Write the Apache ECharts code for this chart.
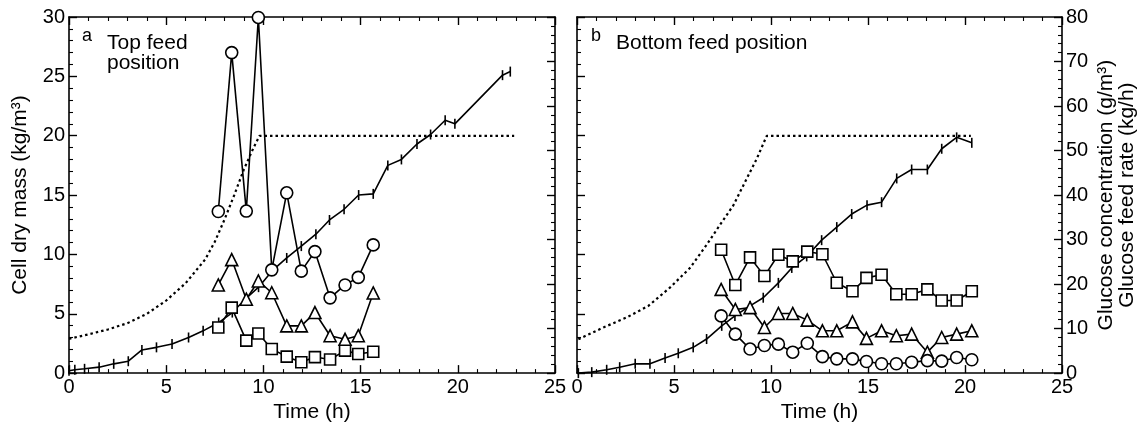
<!DOCTYPE html>
<html><head><meta charset="utf-8">
<script src="https://cdn.jsdelivr.net/npm/echarts@6/dist/echarts.min.js"></script>
<style>html,body{margin:0;padding:0;background:#fff}#c{width:1140px;height:428px}</style>
</head><body><div id="c"></div>
<script>
// ---------- Panel a: top feed position ----------
const aCellT = [0, 0.3, 0.8, 1.55, 2.3, 3.05, 3.75, 4.5, 5.3, 6.15, 6.9, 7.7, 8.4, 9.05, 9.75, 10.5, 11.2, 11.95, 12.7, 13.4, 14.15, 14.9, 15.65, 16.4, 17.1, 17.9, 18.6, 19.35, 19.85, 22.3, 22.7];
const aCellV = [0.2, 0.28, 0.36, 0.5, 0.78, 1.0, 1.95, 2.17, 2.45, 3.0, 3.56, 4.26, 5.1, 6.2, 7.24, 8.7, 9.7, 10.7, 11.7, 12.9, 13.8, 15.0, 15.1, 17.5, 18.0, 19.3, 20.1, 21.3, 21.0, 25.1, 25.4];
const aFeedT = [0, 1, 2, 3, 4, 5, 6, 7, 7.5, 8, 8.5, 9, 9.5, 9.8, 22.9];
const aFeedV = [7.7, 8.7, 9.8, 11.2, 13.3, 16.3, 20.2, 25.5, 29.5, 34.5, 40.0, 45.8, 50.7, 53.3, 53.3];
const aSampT = [7.68, 8.37, 9.12, 9.74, 10.43, 11.2, 11.95, 12.65, 13.43, 14.2, 14.88, 15.65];
const aCircV = [36.3, 72.0, 36.4, 79.9, 23.2, 40.5, 22.9, 27.3, 16.9, 19.8, 21.5, 28.8];
const aTriV  = [19.8, 25.5, 16.6, 20.7, 18.05, 10.6, 10.6, 13.6, 8.4, 7.6, 8.4, 18.0];
const aSqV   = [10.25, 14.7, 7.3, 8.9, 5.4, 3.7, 2.45, 3.6, 3.05, 5.05, 4.3, 4.8];

// ---------- Panel b: bottom feed position ----------
const bCellT = [0.07, 0.76, 1.53, 2.2, 3.0, 3.76, 4.54, 5.22, 5.99, 6.68, 7.46, 8.14, 8.92, 9.6, 10.38, 11.07, 11.84, 12.61, 13.39, 14.16, 14.95, 15.7, 16.48, 17.25, 18.06, 18.8, 19.57, 20.35];
const bCellV = [0.0, 0.08, 0.28, 0.5, 0.78, 0.78, 1.28, 1.67, 2.17, 2.87, 3.98, 4.82, 5.66, 6.35, 7.6, 8.86, 9.83, 11.2, 12.3, 13.4, 14.15, 14.4, 16.4, 17.15, 17.15, 18.9, 19.86, 19.4];
const bFeedT = [0.07, 1.36, 2.56, 3.68, 4.79, 5.82, 6.68, 7.37, 8.06, 8.75, 9.26, 9.78, 20.3];
const bFeedV = [7.6, 10.25, 12.5, 15.1, 19.2, 23.6, 28.8, 33.3, 37.7, 43.7, 48.1, 53.3, 53.3];
const bSampT = [7.43, 8.16, 8.92, 9.66, 10.38, 11.12, 11.87, 12.65, 13.39, 14.2, 14.92, 15.7, 16.46, 17.25, 18.06, 18.8, 19.57, 20.35];
const bSqV   = [27.7, 19.8, 26.0, 21.8, 26.6, 25.1, 27.3, 26.7, 20.3, 18.4, 21.4, 22.1, 17.7, 17.7, 18.8, 16.3, 16.3, 18.4];
const bTriV  = [18.8, 14.3, 14.7, 10.25, 13.4, 13.4, 11.9, 9.5, 9.5, 11.5, 7.8, 9.5, 8.4, 8.75, 4.7, 8.0, 8.75, 9.5];
const bCircV = [12.85, 8.75, 5.4, 6.2, 6.5, 4.7, 6.7, 3.7, 3.2, 3.2, 2.6, 2.1, 2.1, 2.45, 2.8, 2.7, 3.5, 3.0];

// ---------- Axis ticks ----------
const xMin = 0, xMax = 25, xStep = 5;
const cellMin = 0, cellMax = 30, cellStep = 5;
const glcMin = 0, glcMax = 80, glcStep = 10;

const FONT = 'Liberation Sans';
const zip = (t, v) => t.map((x, i) => [x, v[i]]);

const axisLine = {show: true, onZero: false, lineStyle: {color: '#000', width: 1.6}};
const tick = {show: true, inside: true, length: 8, lineStyle: {color: '#000', width: 1.4}};
const minor = {show: true, splitNumber: 5, length: 4, lineStyle: {color: '#000', width: 1.1}};
const lab = (show) => ({show, color: '#000', fontSize: 20, fontFamily: FONT, margin: 4});

function xAxes(gi) {
  return [
    {type: 'value', gridIndex: gi, position: 'bottom', min: xMin, max: xMax, interval: xStep,
     axisLine, axisTick: tick, minorTick: minor, splitLine: {show: false}, axisLabel: lab(true),
     name: 'Time (h)', nameLocation: 'middle', nameGap: 25,
     nameTextStyle: {color: '#000', fontSize: 21, fontFamily: FONT}},
    {type: 'value', gridIndex: gi, position: 'top', min: xMin, max: xMax, interval: xStep,
     axisLine, axisTick: tick, minorTick: minor, splitLine: {show: false}, axisLabel: lab(false)}
  ];
}
function yAxes(gi, showLeft, showRight) {
  return [
    {type: 'value', gridIndex: gi, position: 'left', min: cellMin, max: cellMax, interval: cellStep,
     axisLine, axisTick: tick, minorTick: minor, splitLine: {show: false}, axisLabel: lab(showLeft),
     name: showLeft ? 'Cell dry mass (kg/m³)' : '', nameLocation: 'middle', nameGap: 38, nameRotate: 90,
     nameTextStyle: {color: '#000', fontSize: 21, fontFamily: FONT}},
    {type: 'value', gridIndex: gi, position: 'right', min: glcMin, max: glcMax, interval: glcStep,
     axisLine, axisTick: tick, minorTick: minor, splitLine: {show: false}, axisLabel: lab(showRight),
     name: showRight ? 'Glucose concentration (g/m³)\nGlucose feed rate (kg/h)' : '',
     nameLocation: 'middle', nameGap: 34, nameRotate: 90,
     nameTextStyle: {color: '#000', fontSize: 21, fontFamily: FONT, lineHeight: 21}}
  ];
}

const lineS = {color: '#000', width: 1.6};
const hollow = {color: '#fff', borderColor: '#000', borderWidth: 1.6};

function cellSeries(xi, yi, t, v) {
  return {type: 'line', xAxisIndex: xi, yAxisIndex: yi, data: zip(t, v), symbol: 'rect',
    symbolSize: [1.6, 10], itemStyle: {color: '#000'}, lineStyle: lineS, z: 3, animation: false};
}
function feedSeries(xi, yi, t, v) {
  return {type: 'line', xAxisIndex: xi, yAxisIndex: yi, data: zip(t, v), symbol: 'none',
    lineStyle: {color: '#000', width: 2.2, type: [2.5, 3]}, z: 2, animation: false};
}
function sampSeries(xi, yi, t, v, sym, size) {
  return {type: 'line', xAxisIndex: xi, yAxisIndex: yi, data: zip(t, v), symbol: sym,
    symbolSize: size, showAllSymbol: true, itemStyle: hollow, lineStyle: lineS, z: 4, animation: false};
}

const option = {
  backgroundColor: '#fff',
  animation: false,
  grid: [
    {left: 69, top: 17, width: 486, height: 359},
    {left: 577, top: 17, width: 485, height: 359}
  ],
  xAxis: [...xAxes(0), ...xAxes(1)],
  yAxis: [...yAxes(0, true, false), ...yAxes(1, false, true)],
  series: [
    feedSeries(0, 1, aFeedT, aFeedV),
    cellSeries(0, 0, aCellT, aCellV),
    sampSeries(0, 1, aSampT, aSqV, 'rect', 11),
    sampSeries(0, 1, aSampT, aTriV, 'triangle', 12),
    sampSeries(0, 1, aSampT, aCircV, 'circle', 12),
    feedSeries(2, 3, bFeedT, bFeedV),
    cellSeries(2, 2, bCellT, bCellV),
    sampSeries(2, 3, bSampT, bSqV, 'rect', 11),
    sampSeries(2, 3, bSampT, bTriV, 'triangle', 12),
    sampSeries(2, 3, bSampT, bCircV, 'circle', 12)
  ],
  graphic: [
    {type: 'text', x: 82, y: 27, style: {text: 'a', font: '18px "Liberation Sans"', fill: '#000'}},
    {type: 'text', x: 107, y: 33, style: {text: 'Top feed\nposition', font: '21px "Liberation Sans"', lineHeight: 20, fill: '#000'}},
    {type: 'text', x: 591, y: 27, style: {text: 'b', font: '18px "Liberation Sans"', fill: '#000'}},
    {type: 'text', x: 616, y: 33, style: {text: 'Bottom feed position', font: '21px "Liberation Sans"', fill: '#000'}}
  ]
};
const chart = echarts.init(document.getElementById('c'), null, {renderer: 'canvas'});
chart.setOption(option);
</script></body></html>
